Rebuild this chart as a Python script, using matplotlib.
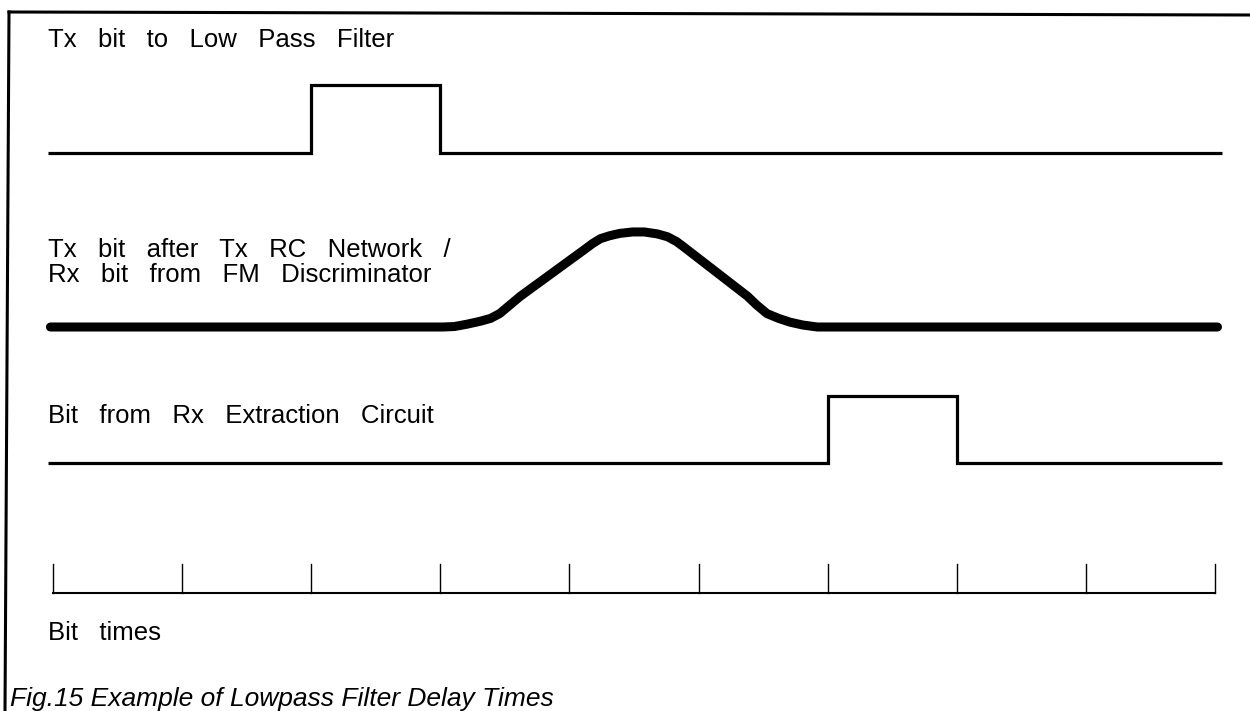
import matplotlib
matplotlib.use("Agg")
import matplotlib.pyplot as plt
import numpy as np

# ---------------- data ----------------
n_bits = 9                                   # bit intervals on the time axis
bit_ticks = list(range(0, 10))               # tick marks at bit boundaries
tx_bits = [0, 0, 1, 0, 0, 0, 0, 0, 0]        # Tx bit to low-pass filter
rx_bits = [0, 0, 0, 0, 0, 0, 1, 0, 0]        # bit from Rx extraction circuit

# filtered (RC network / FM discriminator) waveform
filt_t = [-0.02, 3.02, 3.11, 3.21, 3.31, 3.39, 3.46, 3.54, 3.62, 4.12, 4.18,
          4.24, 4.31, 4.39, 4.49, 4.58, 4.68, 4.76, 4.83, 4.88, 5.38, 5.45,
          5.53, 5.62, 5.71, 5.81, 5.92, 9.02]
filt_a = [0.0, 0.0, 0.005, 0.03, 0.06, 0.09, 0.14, 0.23, 0.32, 0.81, 0.87,
          0.92, 0.95, 0.975, 0.99, 0.99, 0.97, 0.94, 0.89, 0.84, 0.32, 0.23,
          0.14, 0.09, 0.05, 0.02, 0.0, 0.0]

label_tx = "Tx   bit   to   Low   Pass   Filter"
label_filt_1 = "Tx   bit   after   Tx   RC   Network   /"
label_filt_2 = "Rx   bit   from   FM   Discriminator"
label_rx = "Bit   from   Rx   Extraction   Circuit"
label_axis = "Bit   times"
caption = "Fig.15 Example of Lowpass Filter Delay Times"

# ---------------- layout ----------------
W, H = 1250, 711
fig = plt.figure(figsize=(W / 100, H / 100), dpi=100)
fig.patch.set_facecolor("white")
ax = fig.add_axes([0, 0, 1, 1])
x0_px, bit_px = 53.0, 129.1
ax.set_xlim(-x0_px / bit_px, (W - x0_px) / bit_px)
ax.set_ylim(H, 0)
ax.axis("off")

def bit_x(px):
    return (px - x0_px) / bit_px

font = ["Liberation Sans", "DejaVu Sans"]
fs = 18.5

def step_trace(bits, base, height, start, end):
    xs = [start] + list(range(1, len(bits))) + [end]
    ys = [base - height * b for b in bits] + [base - height * bits[-1]]
    ax.plot(xs, ys, drawstyle="steps-post", color="black", lw=2.3,
            solid_joinstyle="miter", solid_capstyle="butt")

# border
ax.plot([bit_x(9), bit_x(1250)], [12, 15], color="black", lw=2.2)
ax.plot([bit_x(9), bit_x(5)], [12, 711], color="black", lw=2.2)

# traces
step_trace(tx_bits, 153, 68, bit_x(48), bit_x(1222))
base_f, h_f = 327, 96
ax.plot(filt_t, [base_f - h_f * a for a in filt_a], color="black", lw=6.5,
        solid_capstyle="round", solid_joinstyle="round")
step_trace(rx_bits, 463, 67, bit_x(48), bit_x(1222))

# bit-time axis
ax.plot([bit_ticks[0], bit_ticks[-1]], [593, 593], color="black", lw=1.5)
for t in bit_ticks:
    ax.plot([t, t], [593, 564], color="black", lw=1.0)

# labels
def label(px, py, s, **kw):
    fig.text(px / W, 1 - py / H, s, fontsize=kw.pop("size", fs), family=font,
             va="baseline", ha="left", **kw)

label(48, 47, label_tx)
label(48, 257, label_filt_1)
label(48, 282, label_filt_2)
label(48, 423, label_rx)
label(48, 640, label_axis)
label(10, 706, caption, style="italic", size=19)

fig.savefig("out.png", dpi=100, facecolor="white")
